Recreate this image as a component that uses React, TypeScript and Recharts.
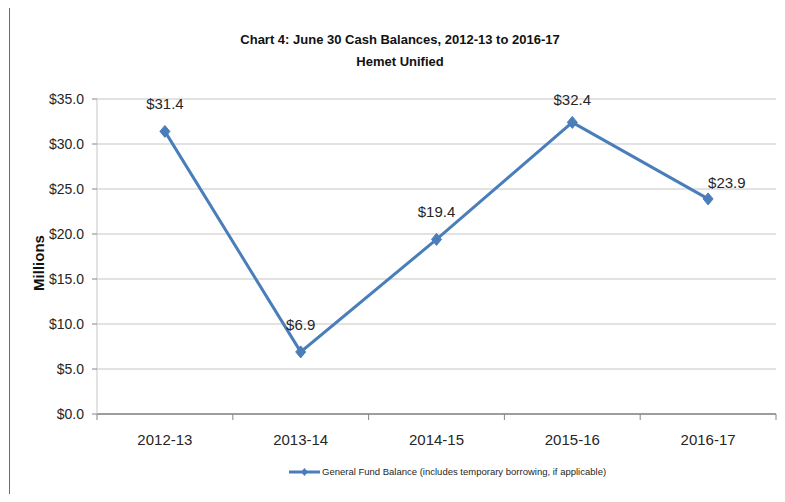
import { LineChart, Line, XAxis, YAxis, CartesianGrid, LabelList } from "recharts";

const years = ["2012-13", "2013-14", "2014-15", "2015-16", "2016-17"];
const balances = [31.4, 6.9, 19.4, 32.4, 23.9];
const yTicks = [0, 5, 10, 15, 20, 25, 30, 35];

const BLUE = "#4a7ebb";
const FONT = '"Liberation Sans", Arial, sans-serif';

const rows = years.map((y, i) => ({ i, year: y, value: balances[i] }));
const xTicks = [-0.5, 0, 0.5, 1, 1.5, 2, 2.5, 3, 3.5, 4, 4.5];

function XTick(props: any) {
  const { x, y, payload } = props;
  const v = payload.value as number;
  if (Number.isInteger(v)) {
    return (
      <text x={x} y={y + 31} textAnchor="middle" fontFamily={FONT} fontSize={15} fill="#262626">
        {years[v]}
      </text>
    );
  }
  return <line x1={x} x2={x} y1={y} y2={y + 6} stroke="#868686" strokeWidth={1} />;
}

function Diamond(props: any) {
  const { cx, cy } = props;
  if (cx == null || cy == null) return null;
  const r = 6;
  return (
    <path
      d={`M${cx},${cy - r} L${cx + r - 1},${cy} L${cx},${cy + r} L${cx - r + 1},${cy} Z`}
      fill={BLUE}
      stroke={BLUE}
    />
  );
}

function ValueLabel(props: any) {
  const { x, y, value, index } = props;
  const last = index === balances.length - 1;
  // Excel put the last label up and to the right of its point
  const ty = last ? y - 11 : Math.max(y - 22, 105);
  return (
    <text
      x={x}
      y={ty}
      textAnchor={last ? "start" : "middle"}
      fontFamily={FONT}
      fontSize={15}
      fill="#262626"
    >
      {`$${Number(value).toFixed(1)}`}
    </text>
  );
}

export default function App() {
  return (
    <div
      style={{
        position: "relative",
        width: 785,
        height: 502,
        margin: -8,
        background: "#fff",
        overflow: "hidden",
      }}
    >
      <div
        style={{
          position: "absolute",
          left: 9,
          top: 6,
          width: 800,
          height: 520,
          borderTop: "2px solid #6e6e6e",
          borderLeft: "1px solid #6e6e6e",
        }}
      />
      <div
        style={{
          position: "absolute",
          top: 29,
          left: 0,
          width: 800,
          textAlign: "center",
          fontFamily: FONT,
          fontWeight: "bold",
          fontSize: 13,
          color: "#111",
          lineHeight: "22px",
        }}
      >
        <div>Chart 4: June 30 Cash Balances, 2012-13 to 2016-17</div>
        <div>Hemet Unified</div>
      </div>
      <div
        style={{
          position: "absolute",
          left: 38,
          top: 263,
          transform: "translate(-50%, -50%) rotate(-90deg)",
          fontFamily: FONT,
          fontWeight: "bold",
          fontSize: 15,
          color: "#111",
          whiteSpace: "nowrap",
        }}
      >
        Millions
      </div>
      <LineChart
        width={785}
        height={502}
        data={rows}
        margin={{ top: 99, right: 9, bottom: 58, left: 37 }}
        style={{ position: "absolute", top: 0, left: 0 }}
      >
        <CartesianGrid horizontal vertical={false} stroke="#d9d9d9" strokeWidth={1.5} />
        <XAxis
          dataKey="i"
          type="number"
          domain={[-0.5, 4.5]}
          ticks={xTicks}
          interval={0}
          tickLine={false}
          tickSize={0}
          tickMargin={0}
          height={30}
          axisLine={{ stroke: "#868686", strokeWidth: 1.5 }}
          tick={<XTick />}
        />
        <YAxis
          domain={[0, 35]}
          ticks={yTicks}
          width={60}
          tickSize={5}
          tickMargin={8}
          tickLine={{ stroke: "#868686" }}
          axisLine={{ stroke: "#d9d9d9", strokeWidth: 1.5 }}
          tickFormatter={(v: number) => `$${v.toFixed(1)}`}
          tick={{ fontFamily: FONT, fontSize: 14, fill: "#262626" }}
        />
        <Line
          dataKey="value"
          stroke={BLUE}
          strokeWidth={3}
          dot={<Diamond />}
          activeDot={false}
          isAnimationActive={false}
        >
          <LabelList dataKey="value" content={<ValueLabel />} />
        </Line>
      </LineChart>
      <div
        style={{
          position: "absolute",
          top: 466,
          left: 289,
          display: "flex",
          alignItems: "center",
          fontFamily: FONT,
          fontSize: 9.5,
          color: "#262626",
          whiteSpace: "nowrap",
        }}
      >
        <svg width={31} height={10} style={{ marginRight: 2 }}>
          <line x1={0} x2={31} y1={5} y2={5} stroke={BLUE} strokeWidth={3} />
          <path d="M15.5,1 L19,5 L15.5,9 L12,5 Z" fill={BLUE} />
        </svg>
        General Fund Balance (includes temporary borrowing, if applicable)
      </div>
    </div>
  );
}
